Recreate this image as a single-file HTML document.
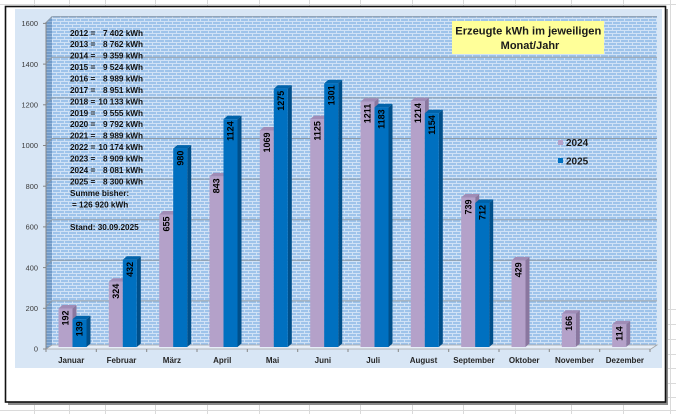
<!DOCTYPE html>
<html><head><meta charset="utf-8"><style>
html,body{margin:0;padding:0;background:#fff;}
svg{display:block;}
text{font-family:"Liberation Sans",Arial,sans-serif;}
</style></head><body>
<svg width="676" height="414" viewBox="0 0 676 414" xmlns="http://www.w3.org/2000/svg">
<defs>
<pattern id="brick" patternUnits="userSpaceOnUse" width="8" height="6">
<rect width="8" height="6" fill="#9ec3ea"/>
<rect y="0" width="8" height="1" fill="#d0e2f6"/>
<rect y="3" width="8" height="1" fill="#d0e2f6"/>
<rect x="0" y="0" width="1" height="3" fill="#d0e2f6"/>
<rect x="4" y="3" width="1" height="3" fill="#d0e2f6"/>
</pattern>
<pattern id="brick2" patternUnits="userSpaceOnUse" width="6" height="6">
<rect width="6" height="6" fill="#729bc8"/>
<rect y="0" width="6" height="1" fill="#93b4d8"/>
<rect y="3" width="6" height="1" fill="#93b4d8"/>
</pattern>
</defs>

<!-- spreadsheet gridlines -->
<g stroke="#dadada" stroke-width="1">
<line x1="34.5" y1="0" x2="34.5" y2="414"/><line x1="69.5" y1="0" x2="69.5" y2="414"/>
<line x1="105.5" y1="0" x2="105.5" y2="414"/><line x1="155.5" y1="0" x2="155.5" y2="414"/>
<line x1="207.5" y1="0" x2="207.5" y2="414"/><line x1="259.5" y1="0" x2="259.5" y2="414"/>
<line x1="309.5" y1="0" x2="309.5" y2="414"/><line x1="360.5" y1="0" x2="360.5" y2="414"/>
<line x1="412.5" y1="0" x2="412.5" y2="414"/><line x1="463.5" y1="0" x2="463.5" y2="414"/>
<line x1="515.5" y1="0" x2="515.5" y2="414"/><line x1="571.5" y1="0" x2="571.5" y2="414"/>
<line x1="623.5" y1="0" x2="623.5" y2="414"/><line x1="670.5" y1="0" x2="670.5" y2="414"/>
<line x1="0" y1="4.5" x2="676" y2="4.5"/><line x1="0" y1="410.5" x2="676" y2="410.5"/>
<line x1="666" y1="309.5" x2="676" y2="309.5"/><line x1="666" y1="324.5" x2="676" y2="324.5"/>
<line x1="666" y1="339.5" x2="676" y2="339.5"/><line x1="666" y1="354.5" x2="676" y2="354.5"/>
<line x1="666" y1="368.5" x2="676" y2="368.5"/><line x1="666" y1="383.5" x2="676" y2="383.5"/>
<line x1="666" y1="397.5" x2="676" y2="397.5"/>
</g>

<!-- frame with shadow -->
<rect x="8" y="9" width="660" height="396" fill="#8a8a8a"/>
<rect x="5.5" y="6.5" width="660" height="395.5" fill="#ffffff" stroke="#111" stroke-width="1.6"/>

<!-- chart area -->
<rect x="15" y="9" width="647" height="359" fill="#d8e6f5"/>

<!-- back wall -->
<rect x="52" y="16" width="605" height="329" fill="url(#brick)"/>
<!-- left wall -->
<polygon points="46,22 52,16 52,345 46,349" fill="url(#brick2)"/>

<!-- gridlines -->
<g stroke="#8e9aa6" stroke-width="1" fill="none">
<polyline points="46,306.9 52,300.9 657,300.9"/>
<polyline points="46,266.3 52,260.3 657,260.3"/>
<polyline points="46,225.7 52,219.7 657,219.7"/>
<polyline points="46,185.1 52,179.1 657,179.1"/>
<polyline points="46,144.5 52,138.5 657,138.5"/>
<polyline points="46,103.9 52,97.9 657,97.9"/>
<polyline points="46,63.3 52,57.3 657,57.3"/>
<polyline points="46,22.7 52,16.7 657,16.7"/>
</g>

<!-- floor -->
<polygon points="46,349 52,345 657,345 651,349" fill="#e6eef8" stroke="#a3a3a3" stroke-width="0.8"/>

<!-- y axis -->
<g stroke="#868686" stroke-width="1">
<line x1="46" y1="22" x2="46" y2="349"/>
<line x1="43" y1="349" x2="46" y2="349"/><line x1="43" y1="308.3" x2="46" y2="308.3"/>
<line x1="43" y1="267.6" x2="46" y2="267.6"/><line x1="43" y1="226.9" x2="46" y2="226.9"/>
<line x1="43" y1="186.2" x2="46" y2="186.2"/><line x1="43" y1="145.5" x2="46" y2="145.5"/>
<line x1="43" y1="104.8" x2="46" y2="104.8"/><line x1="43" y1="64.1" x2="46" y2="64.1"/>
<line x1="43" y1="23.4" x2="46" y2="23.4"/>
</g>
<g font-size="7.4" fill="#3a3a3a" text-anchor="end">
<text x="38" y="351.7">0</text><text x="38" y="311">200</text><text x="38" y="270.3">400</text>
<text x="38" y="229.6">600</text><text x="38" y="188.9">800</text><text x="38" y="148.2">1000</text>
<text x="38" y="107.5">1200</text><text x="38" y="66.8">1400</text><text x="38" y="26.1">1600</text>
</g>

<!-- x axis ticks -->
<g stroke="#868686" stroke-width="1">
<line x1="46" y1="349" x2="46" y2="352"/>
<line x1="96.3" y1="349" x2="96.3" y2="352"/><line x1="146.7" y1="349" x2="146.7" y2="352"/>
<line x1="197" y1="349" x2="197" y2="352"/><line x1="247.3" y1="349" x2="247.3" y2="352"/>
<line x1="297.7" y1="349" x2="297.7" y2="352"/><line x1="348" y1="349" x2="348" y2="352"/>
<line x1="398.3" y1="349" x2="398.3" y2="352"/><line x1="448.7" y1="349" x2="448.7" y2="352"/>
<line x1="499" y1="349" x2="499" y2="352"/><line x1="549.3" y1="349" x2="549.3" y2="352"/>
<line x1="599.7" y1="349" x2="599.7" y2="352"/><line x1="650" y1="349" x2="650" y2="352"/>
</g>

<!-- bars -->
<g>
<!-- Januar -->
<g transform="translate(58.5,308.5)"><polygon points="0,0 4,-3.5 18,-3.5 14,0" fill="#a08cb6"/><polygon points="14,0 18,-3.5 18,35 14,38.5" fill="#8a779f"/><rect width="14" height="38.5" fill="#b4a1c9"/></g>
<g transform="translate(72.5,319.3)"><polygon points="0,0 4,-3.5 18,-3.5 14,0" fill="#0063aa"/><polygon points="14,0 18,-3.5 18,24.2 14,27.7" fill="#004f8a"/><rect width="14" height="27.7" fill="#0070c0"/></g>
<!-- Februar -->
<g transform="translate(108.8,281.7)"><polygon points="0,0 4,-3.5 18,-3.5 14,0" fill="#a08cb6"/><polygon points="14,0 18,-3.5 18,61.8 14,65.3" fill="#8a779f"/><rect width="14" height="65.3" fill="#b4a1c9"/></g>
<g transform="translate(122.8,259.8)"><polygon points="0,0 4,-3.5 18,-3.5 14,0" fill="#0063aa"/><polygon points="14,0 18,-3.5 18,83.7 14,87.2" fill="#004f8a"/><rect width="14" height="87.2" fill="#0070c0"/></g>
<!-- Maerz -->
<g transform="translate(159.2,214.5)"><polygon points="0,0 4,-3.5 18,-3.5 14,0" fill="#a08cb6"/><polygon points="14,0 18,-3.5 18,129 14,132.5" fill="#8a779f"/><rect width="14" height="132.5" fill="#b4a1c9"/></g>
<g transform="translate(173.2,148.6)"><polygon points="0,0 4,-3.5 18,-3.5 14,0" fill="#0063aa"/><polygon points="14,0 18,-3.5 18,194.9 14,198.4" fill="#004f8a"/><rect width="14" height="198.4" fill="#0070c0"/></g>
<!-- April -->
<g transform="translate(209.5,176.4)"><polygon points="0,0 4,-3.5 18,-3.5 14,0" fill="#a08cb6"/><polygon points="14,0 18,-3.5 18,167.1 14,170.6" fill="#8a779f"/><rect width="14" height="170.6" fill="#b4a1c9"/></g>
<g transform="translate(223.5,119.3)"><polygon points="0,0 4,-3.5 18,-3.5 14,0" fill="#0063aa"/><polygon points="14,0 18,-3.5 18,224.2 14,227.7" fill="#004f8a"/><rect width="14" height="227.7" fill="#0070c0"/></g>
<!-- Mai -->
<g transform="translate(259.8,130.5)"><polygon points="0,0 4,-3.5 18,-3.5 14,0" fill="#a08cb6"/><polygon points="14,0 18,-3.5 18,213 14,216.5" fill="#8a779f"/><rect width="14" height="216.5" fill="#b4a1c9"/></g>
<g transform="translate(273.8,88.7)"><polygon points="0,0 4,-3.5 18,-3.5 14,0" fill="#0063aa"/><polygon points="14,0 18,-3.5 18,254.8 14,258.3" fill="#004f8a"/><rect width="14" height="258.3" fill="#0070c0"/></g>
<!-- Juni -->
<g transform="translate(310.2,119.1)"><polygon points="0,0 4,-3.5 18,-3.5 14,0" fill="#a08cb6"/><polygon points="14,0 18,-3.5 18,224.4 14,227.9" fill="#8a779f"/><rect width="14" height="227.9" fill="#b4a1c9"/></g>
<g transform="translate(324.2,83.4)"><polygon points="0,0 4,-3.5 18,-3.5 14,0" fill="#0063aa"/><polygon points="14,0 18,-3.5 18,260.1 14,263.6" fill="#004f8a"/><rect width="14" height="263.6" fill="#0070c0"/></g>
<!-- Juli -->
<g transform="translate(360.5,101.7)"><polygon points="0,0 4,-3.5 18,-3.5 14,0" fill="#a08cb6"/><polygon points="14,0 18,-3.5 18,241.8 14,245.3" fill="#8a779f"/><rect width="14" height="245.3" fill="#b4a1c9"/></g>
<g transform="translate(374.5,107.4)"><polygon points="0,0 4,-3.5 18,-3.5 14,0" fill="#0063aa"/><polygon points="14,0 18,-3.5 18,236.1 14,239.6" fill="#004f8a"/><rect width="14" height="239.6" fill="#0070c0"/></g>
<!-- August -->
<g transform="translate(410.8,101.1)"><polygon points="0,0 4,-3.5 18,-3.5 14,0" fill="#a08cb6"/><polygon points="14,0 18,-3.5 18,242.4 14,245.9" fill="#8a779f"/><rect width="14" height="245.9" fill="#b4a1c9"/></g>
<g transform="translate(424.8,113.2)"><polygon points="0,0 4,-3.5 18,-3.5 14,0" fill="#0063aa"/><polygon points="14,0 18,-3.5 18,230.3 14,233.8" fill="#004f8a"/><rect width="14" height="233.8" fill="#0070c0"/></g>
<!-- September -->
<g transform="translate(461.2,197.5)"><polygon points="0,0 4,-3.5 18,-3.5 14,0" fill="#a08cb6"/><polygon points="14,0 18,-3.5 18,146 14,149.5" fill="#8a779f"/><rect width="14" height="149.5" fill="#b4a1c9"/></g>
<g transform="translate(475.2,203)"><polygon points="0,0 4,-3.5 18,-3.5 14,0" fill="#0063aa"/><polygon points="14,0 18,-3.5 18,140.5 14,144" fill="#004f8a"/><rect width="14" height="144" fill="#0070c0"/></g>
<!-- Oktober -->
<g transform="translate(511.5,260.4)"><polygon points="0,0 4,-3.5 18,-3.5 14,0" fill="#a08cb6"/><polygon points="14,0 18,-3.5 18,83.1 14,86.6" fill="#8a779f"/><rect width="14" height="86.6" fill="#b4a1c9"/></g>
<!-- November -->
<g transform="translate(561.8,313.8)"><polygon points="0,0 4,-3.5 18,-3.5 14,0" fill="#a08cb6"/><polygon points="14,0 18,-3.5 18,29.7 14,33.2" fill="#8a779f"/><rect width="14" height="33.2" fill="#b4a1c9"/></g>
<!-- Dezember -->
<g transform="translate(612.2,324.4)"><polygon points="0,0 4,-3.5 18,-3.5 14,0" fill="#a08cb6"/><polygon points="14,0 18,-3.5 18,19.1 14,22.6" fill="#8a779f"/><rect width="14" height="22.6" fill="#b4a1c9"/></g>
</g>

<!-- value labels -->
<g font-size="9" font-weight="bold" fill="#000" text-anchor="end">
<text transform="translate(65.5,310.5) rotate(-90)" dy=".35em">192</text>
<text transform="translate(79.5,321.3) rotate(-90)" dy=".35em">139</text>
<text transform="translate(115.8,283.7) rotate(-90)" dy=".35em">324</text>
<text transform="translate(129.8,261.8) rotate(-90)" dy=".35em">432</text>
<text transform="translate(166.2,216.5) rotate(-90)" dy=".35em">655</text>
<text transform="translate(180.2,150.6) rotate(-90)" dy=".35em">980</text>
<text transform="translate(216.5,178.4) rotate(-90)" dy=".35em">843</text>
<text transform="translate(230.5,121.3) rotate(-90)" dy=".35em">1124</text>
<text transform="translate(266.8,132.5) rotate(-90)" dy=".35em">1069</text>
<text transform="translate(280.8,90.7) rotate(-90)" dy=".35em">1275</text>
<text transform="translate(317.2,121.1) rotate(-90)" dy=".35em">1125</text>
<text transform="translate(331.2,85.4) rotate(-90)" dy=".35em">1301</text>
<text transform="translate(367.5,103.7) rotate(-90)" dy=".35em">1211</text>
<text transform="translate(381.5,109.4) rotate(-90)" dy=".35em">1183</text>
<text transform="translate(417.8,103.1) rotate(-90)" dy=".35em">1214</text>
<text transform="translate(431.8,115.2) rotate(-90)" dy=".35em">1154</text>
<text transform="translate(468.2,199.5) rotate(-90)" dy=".35em">739</text>
<text transform="translate(482.2,205) rotate(-90)" dy=".35em">712</text>
<text transform="translate(518.5,262.4) rotate(-90)" dy=".35em">429</text>
<text transform="translate(568.8,315.8) rotate(-90)" dy=".35em">166</text>
<text transform="translate(619.2,326.4) rotate(-90)" dy=".35em">114</text>
</g>

<!-- month labels -->
<g font-size="8" font-weight="bold" fill="#262626" text-anchor="middle">
<text x="71.2" y="363">Januar</text><text x="121.5" y="363">Februar</text>
<text x="171.9" y="363">März</text><text x="222.2" y="363">April</text>
<text x="272.5" y="363">Mai</text><text x="322.9" y="363">Juni</text>
<text x="373.2" y="363">Juli</text><text x="423.5" y="363">August</text>
<text x="473.9" y="363">September</text><text x="524.2" y="363">Oktober</text>
<text x="574.5" y="363">November</text><text x="624.9" y="363">Dezember</text>
</g>

<!-- info text block -->
<g font-size="8.2" font-weight="bold" fill="#111">
<text x="70" y="35.8">2012 =</text><text x="143" y="35.8" text-anchor="end">7 402 kWh</text>
<text x="70" y="47.2">2013 =</text><text x="143" y="47.2" text-anchor="end">8 762 kWh</text>
<text x="70" y="58.7">2014 =</text><text x="143" y="58.7" text-anchor="end">9 359 kWh</text>
<text x="70" y="70.1">2015 =</text><text x="143" y="70.1" text-anchor="end">9 524 kWh</text>
<text x="70" y="81.5">2016 =</text><text x="143" y="81.5" text-anchor="end">8 989 kWh</text>
<text x="70" y="93">2017 =</text><text x="143" y="93" text-anchor="end">8 951 kWh</text>
<text x="70" y="104.4">2018 =</text><text x="143" y="104.4" text-anchor="end">10 133 kWh</text>
<text x="70" y="115.8">2019 =</text><text x="143" y="115.8" text-anchor="end">9 555 kWh</text>
<text x="70" y="127.2">2020 =</text><text x="143" y="127.2" text-anchor="end">9 792 kWh</text>
<text x="70" y="138.7">2021 =</text><text x="143" y="138.7" text-anchor="end">8 989 kWh</text>
<text x="70" y="150.1">2022 =</text><text x="143" y="150.1" text-anchor="end">10 174 kWh</text>
<text x="70" y="161.5">2023 =</text><text x="143" y="161.5" text-anchor="end">8 909 kWh</text>
<text x="70" y="173">2024 =</text><text x="143" y="173" text-anchor="end">8 081 kWh</text>
<text x="70" y="184.4">2025 =</text><text x="143" y="184.4" text-anchor="end">8 300 kWh</text>
<text x="70" y="195.8">Summe bisher:</text>
<text x="72" y="207.6">= 126 920 kWh</text>
<text x="70" y="230.1">Stand: 30.09.2025</text>
</g>

<!-- title box -->
<rect x="452" y="21" width="152" height="33" fill="#ffff99"/>
<g font-size="11" font-weight="bold" fill="#1a1a1a" text-anchor="middle">
<text x="528.3" y="34.7" textLength="146" lengthAdjust="spacingAndGlyphs">Erzeugte kWh im jeweiligen</text>
<text x="530" y="49">Monat/Jahr</text>
</g>

<!-- legend -->
<rect x="558" y="140" width="5" height="5" fill="#b4a1c9"/>
<rect x="558" y="158" width="5" height="5" fill="#0070c0"/>
<g font-size="10" font-weight="bold" fill="#1a1a1a">
<text x="566" y="146">2024</text>
<text x="566" y="164.3">2025</text>
</g>
</svg>
</body></html>
